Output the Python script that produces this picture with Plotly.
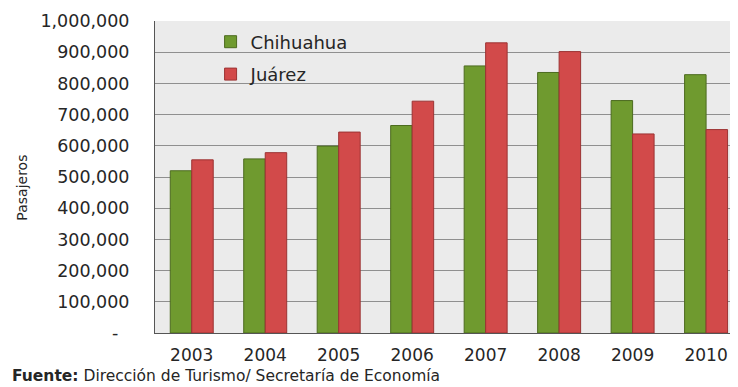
import plotly.graph_objects as go

years = ["2003", "2004", "2005", "2006", "2007", "2008", "2009", "2010"]
chihuahua = [520000, 558000, 599000, 665000, 856000, 835000, 745000, 828000]
juarez = [555000, 578000, 644000, 743000, 930000, 902000, 638000, 652000]
y_ticks = [0, 100000, 200000, 300000, 400000, 500000, 600000, 700000, 800000, 900000, 1000000]
y_ticktext = ["-\u00a0\u00a0" if v == 0 else f"{v:,}" for v in y_ticks]

FONT = "DejaVu Sans"
TXT = "#262626"

fig = go.Figure()
fig.add_trace(go.Bar(
    name="Chihuahua", x=years, y=chihuahua,
    marker=dict(color="#6f9a2f", line=dict(color="#4c6b1f", width=1)),
    legendgroup="a",
))
fig.add_trace(go.Bar(
    name="Juárez", x=years, y=juarez,
    marker=dict(color="#d24a4a", line=dict(color="#9c3333", width=1)),
    legendgroup="b",
))

# page has an 8px body margin: figure is 730x379, offset by 8px
fig.update_layout(
    width=730, height=379,
    margin=dict(l=147, r=3, t=10, b=54),
    paper_bgcolor="white",
    plot_bgcolor="#ebebeb",
    barmode="group",
    bargap=0.415,
    bargroupgap=0,
    font=dict(family=FONT, size=17.5, color=TXT),
    showlegend=True,
    legend=dict(
        x=0.096, y=0.992, xanchor="left", yanchor="top",
        bgcolor="rgba(0,0,0,0)",
        font=dict(family=FONT, size=18, color=TXT),
        traceorder="grouped", tracegroupgap=6,
        itemwidth=30,
    ),
    xaxis=dict(
        type="category",
        range=[-0.5, 7.38],
        showgrid=False,
        showline=True, linecolor="#555555", linewidth=1,
        ticks="", tickfont=dict(family=FONT, size=17, color=TXT),
        ticklabelstandoff=7,
    ),
    yaxis=dict(
        range=[0, 1000000],
        tickvals=y_ticks, ticktext=y_ticktext,
        showgrid=True, gridcolor="#8f8f8f", gridwidth=1,
        showline=True, linecolor="#555555", linewidth=1, mirror=True,
        ticks="", tickfont=dict(family=FONT, size=17.5, color=TXT),
        ticklabelstandoff=21,
        zeroline=False,
    ),
    annotations=[
        dict(
            text="Pasajeros", textangle=-90,
            xref="paper", yref="paper",
            x=(22 - 155) / 580, y=(333 - 186) / 315,
            xanchor="center", yanchor="middle", showarrow=False,
            font=dict(family=FONT, size=14, color=TXT),
        ),
        dict(
            text="<b>Fuente:</b> Dirección de Turismo/ Secretaría de Economía",
            xref="paper", yref="paper",
            x=(10 - 155) / 580, y=(333 - 376) / 315,
            xanchor="left", yanchor="middle", showarrow=False,
            font=dict(family=FONT, size=15.5, color=TXT),
        ),
    ],
)

fig.write_html("out.html")
